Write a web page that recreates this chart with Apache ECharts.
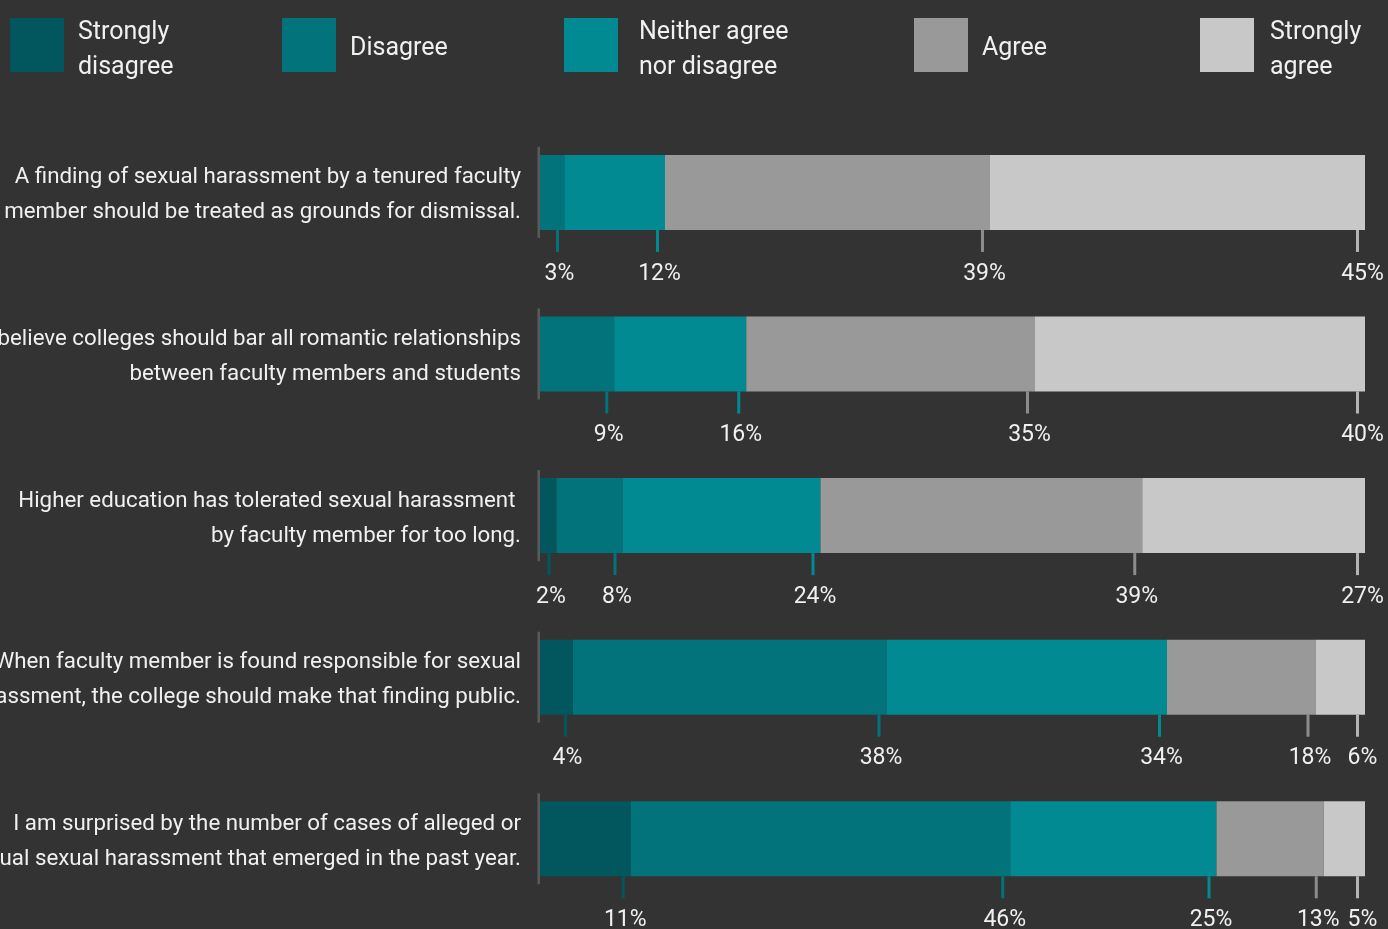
<!DOCTYPE html>
<html>
<head>
<meta charset="utf-8">
<script src="https://cdn.jsdelivr.net/npm/echarts@6/dist/echarts.min.js"></script>
<style>
html,body{margin:0;padding:0;background:#333333;}
#chart{width:1388px;height:929px;}
</style>
</head>
<body>
<div id="chart"></div>
<script>
// ---- data ----
const categories = [
  'A finding of sexual harassment by a tenured faculty\nmember should be treated as grounds for dismissal.',
  'I believe colleges should bar all romantic relationships\nbetween faculty members and students',
  'Higher education has tolerated sexual harassment \nby faculty member for too long.',
  'When faculty member is found responsible for sexual\nharassment, the college should make that finding public.',
  'I am surprised by the number of cases of alleged or\nactual sexual harassment that emerged in the past year.'
];
const seriesNames = ['Strongly disagree', 'Disagree', 'Neither agree nor disagree', 'Agree', 'Strongly agree'];
const legendLabels = ['Strongly\ndisagree', 'Disagree', 'Neither agree\nnor disagree', 'Agree', 'Strongly\nagree'];
const stronglyDisagree = [0, 0, 2, 4, 11];
const disagree         = [3, 9, 8, 38, 46];
const neither          = [12, 16, 24, 34, 25];
const agree            = [39, 35, 39, 18, 13];
const stronglyAgree    = [45, 40, 27, 6, 5];

// ---- styling ----
const colors = ['#02575e', '#02737b', '#028a93', '#999999', '#c8c8c8'];
const tickColors = ['#02575e', '#02737b', '#028a93', '#8c8c8c', '#b4b4b4'];
const FONT = 'Roboto';
const TEXT = '#f0f0f0';

const allVals = [stronglyDisagree, disagree, neither, agree, stronglyAgree];
const rowSums = categories.map((_, i) => allVals.reduce((s, a) => s + a[i], 0));
const norm = allVals.map(a => a.map((v, i) => v / rowSums[i] * 100));

const tickData = [];
categories.forEach((_, i) => {
  let cum = 0;
  let lastJ = -1;
  allVals.forEach((a, j) => { if (a[i] > 0) lastJ = j; });
  allVals.forEach((a, j) => {
    if (a[i] > 0) {
      cum += norm[j][i];
      tickData.push([cum, i, a[i], j, j === lastJ ? 1 : 0]);
    }
  });
});
const axisSegData = categories.map((_, i) => [0, i]);

const barSeries = seriesNames.map((name, j) => ({
  name: name,
  type: 'bar',
  stack: 'total',
  barWidth: 75,
  itemStyle: { color: colors[j] },
  emphasis: { disabled: true },
  data: norm[j]
}));

function richLines(text, spacerKey) {
  return '{' + spacerKey + '| }\n' + text.split('\n').map(l => '{t|' + l + '}').join('\n');
}

const legendLefts = [10, 282, 564, 914, 1200];
const legendPads = [9, 9, 16, 9, 11];
const legends = seriesNames.map((name, j) => {
  const twoLine = legendLabels[j].indexOf('\n') >= 0;
  return {
    left: legendLefts[j],
    top: twoLine ? 5 : 18,
    padding: 0,
    itemWidth: 54,
    itemHeight: 54,
    icon: 'rect',
    selectedMode: false,
    data: [name],
    formatter: () => richLines(legendLabels[j], twoLine ? 's2' : 's1'),
    textStyle: {
      color: TEXT, fontSize: 25, lineHeight: 35, fontFamily: FONT, padding: [0, 0, 0, legendPads[j]],
      rich: {
        s1: { fontSize: 1, lineHeight: 8 },
        s2: { fontSize: 1, lineHeight: 10 },
        t: { color: TEXT, fontSize: 25, lineHeight: 35, fontFamily: FONT }
      }
    }
  };
});

const chart = echarts.init(document.getElementById('chart'), null, { renderer: 'canvas' });
chart.setOption({
  backgroundColor: '#333333',
  animation: false,
  legend: legends,
  grid: { left: 540, right: 23, top: 111.6, bottom: 9.4, containLabel: false, outerBoundsMode: 'none' },
  xAxis: { type: 'value', min: 0, max: 100, show: false },
  yAxis: {
    type: 'category',
    data: categories,
    inverse: true,
    axisLine: { show: false },
    axisTick: { show: false },
    splitLine: { show: false },
    axisLabel: {
      color: TEXT, fontSize: 22.3, lineHeight: 35, margin: 19, fontFamily: FONT, align: 'right',
      formatter: v => richLines(v, 's'),
      rich: {
        s: { fontSize: 1, lineHeight: 6 },
        t: { color: TEXT, fontSize: 22.3, lineHeight: 35, fontFamily: FONT }
      }
    }
  },
  series: barSeries.concat([
    {
      type: 'custom',
      name: 'axisSeg',
      coordinateSystem: 'cartesian2d',
      clip: false,
      silent: true,
      encode: { x: 0, y: 1 },
      data: axisSegData,
      renderItem: (params, api) => {
        const p = api.coord([api.value(0), api.value(1)]);
        return { type: 'rect', shape: { x: p[0] - 2.5, y: p[1] - 45.5, width: 2.5, height: 91 }, style: { fill: '#5a5a5a' } };
      }
    },
    {
      type: 'custom',
      name: 'ticks',
      coordinateSystem: 'cartesian2d',
      clip: false,
      silent: true,
      encode: { x: 0, y: 1 },
      data: tickData,
      renderItem: (params, api) => {
        const p = api.coord([api.value(0), api.value(1)]);
        const j = api.value(3);
        const isLast = api.value(4) === 1;
        const x = p[0] - 7.5;
        const bottom = p[1] + 37.5;
        return {
          type: 'group',
          children: [
            { type: 'rect', shape: { x: x - 1.5, y: bottom, width: 3, height: 22 }, style: { fill: tickColors[j] } },
            { type: 'text', x: x + (isLast ? 5 : 2), y: bottom + 44,
              style: { text: api.value(2) + '%', fill: TEXT, fontSize: 23, fontFamily: FONT, align: 'center', verticalAlign: 'middle' } }
          ]
        };
      }
    }
  ])
});
</script>
</body>
</html>
